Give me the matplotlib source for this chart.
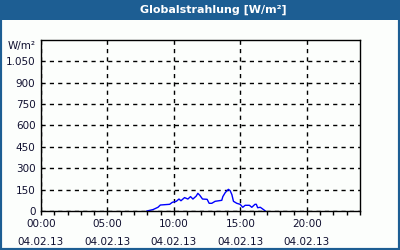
import matplotlib
matplotlib.use("Agg")
import matplotlib.pyplot as plt
from matplotlib.patches import Rectangle

# Globalstrahlung 04.02.13, Stunde -> W/m²
hours = [7.97, 8.43, 8.8, 8.98, 9.68, 9.88, 10.18, 10.38, 10.53, 10.8, 11.05,
         11.25, 11.43, 11.68, 11.8, 11.95, 12.15, 12.5, 12.65, 12.85, 13.1,
         13.6, 13.68, 13.86, 14.1, 14.23, 14.36, 14.48, 14.73, 14.98, 15.18,
         15.36, 15.68, 15.86, 16.1, 16.2, 16.3, 16.5, 16.68, 16.88]
values = [0, 10, 26, 42, 47, 61, 68, 84, 72, 94, 84,
          101, 84, 105, 124, 110, 84, 82, 54, 54, 68,
          75, 101, 129, 152, 143, 115, 68, 54, 47, 26,
          40, 40, 26, 47, 47, 23, 26, 14, 0]

xticks = [0, 5, 10, 15, 20]
xlabels = ["00:00\n04.02.13", "05:00\n04.02.13", "10:00\n04.02.13",
           "15:00\n04.02.13", "20:00\n04.02.13"]
yticks = [0, 150, 300, 450, 600, 750, 900, 1050]
ylabels = ["0", "150", "300", "450", "600", "750", "900", "1.050"]

blue = "#1d5e93"
fig = plt.figure(figsize=(4, 2.5), dpi=100, facecolor="#fcfefc")
plt.rcParams["font.family"] = ["DejaVu Sans"]

# rahmen + titelleiste
fig.patches.append(Rectangle((0, 0), 1, 1, transform=fig.transFigure,
                             fill=False, edgecolor=blue, linewidth=3))
fig.patches.append(Rectangle((0, 1 - 20 / 250), 1, 20 / 250, transform=fig.transFigure,
                             facecolor=blue, edgecolor="none"))
fig.text(213 / 400, 1 - 10 / 250, "Globalstrahlung [W/m²]", color="white",
         fontsize=8, fontweight="bold", ha="center", va="center")

ax = fig.add_axes([41 / 400, 1 - 211 / 250, 319 / 400, 171 / 250])
ax.set_facecolor("#fcfefc")
ax.plot(hours, values, color="#0000ff", linewidth=1)

ax.set_xlim(0, 24)
ax.set_ylim(0, 1200)
ax.set_xticks(xticks)
ax.set_xticklabels(xlabels, fontsize=7.5, color="#101030", linespacing=1.9)
ax.set_xticks(range(0, 25), minor=True)
ax.set_yticks(yticks)
ax.set_yticklabels(ylabels, fontsize=7.5, color="#101030")
ax.tick_params(axis="x", which="both", direction="out", length=3, width=1, pad=3)
ax.tick_params(axis="y", length=0, pad=4)
ax.grid(True, color="black", linestyle=(0, (3, 3)), linewidth=1)
for s in ax.spines.values():
    s.set_linewidth(1)
fig.text(36 / 400, 1 - 46 / 250, "W/m²", fontsize=7.5, color="#101030",
         ha="right", va="center")

plt.savefig("out.png", dpi=100, facecolor=fig.get_facecolor())
plt.close()
